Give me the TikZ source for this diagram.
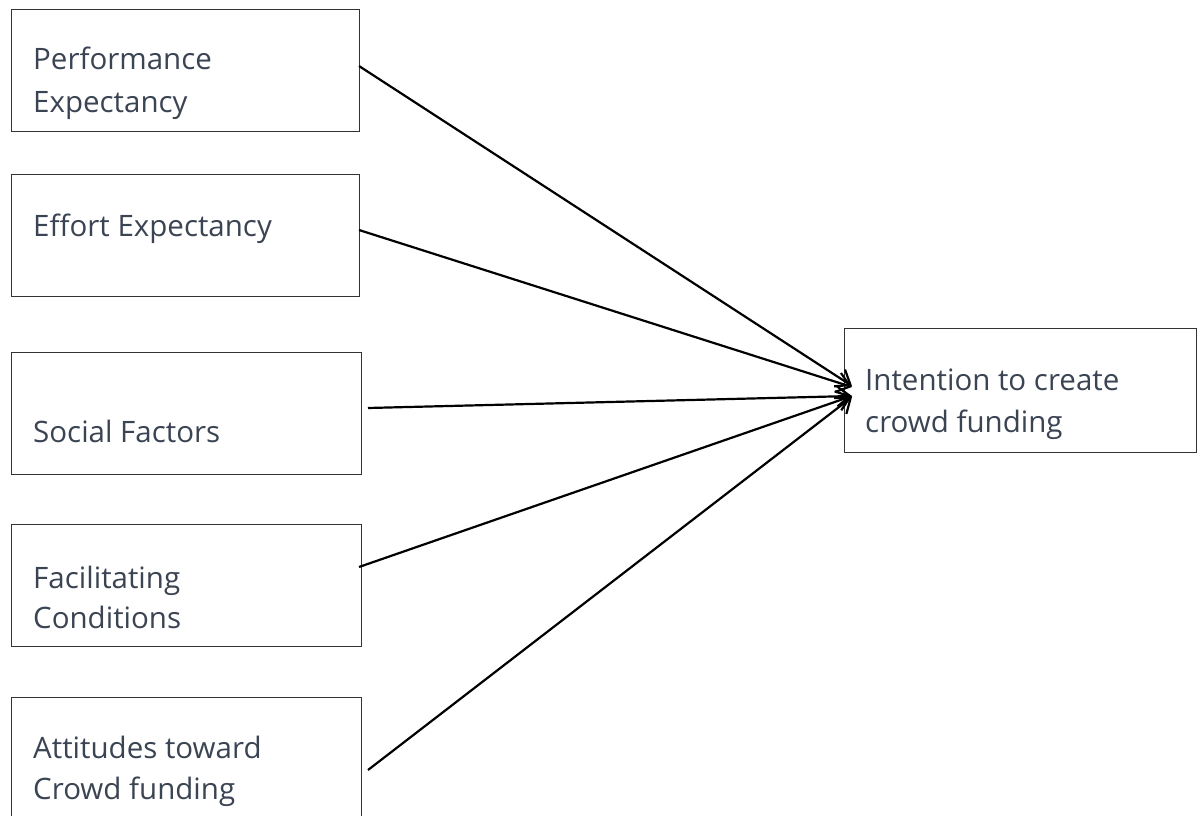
\documentclass[tikz,border=0pt]{standalone}
\usepackage{fontspec}
\setmainfont{Open Sans}
\usetikzlibrary{arrows.meta}
\definecolor{boxgray}{HTML}{333333}
\definecolor{txtcol}{HTML}{3B4453}
\begin{document}
\begin{tikzpicture}[x=1pt,y=-1pt,
  box/.style={draw=boxgray, line width=1.4pt, inner sep=0pt, anchor=north west, minimum width=348pt, minimum height=122pt},
  lbl/.style={anchor=base west, inner sep=0pt, text=txtcol, font=\fontsize{29.5pt}{42pt}\selectfont},
  arr/.style={draw=black, line width=2.2pt, -{Straight Barb[length=13pt,width=20pt,line width=2.2pt]}}]
\useasboundingbox (0,0) rectangle (1200,816);
\fill[white] (0,0) rectangle (1200,816);
% boxes
\node[box] (b1) at (11,9) {};
\node[box] (b2) at (11,174) {};
\node[box, minimum width=350pt] (b3) at (11,352) {};
\node[box, minimum width=350pt] (b4) at (11,524) {};
\node[box, minimum width=350pt, minimum height=140pt] (b5) at (11,697) {};
\node[box, minimum width=352pt, minimum height=124pt] (t) at (844,328) {};
% labels
\node[lbl] (l1a) at (33,70) {Performance};
\node[lbl] (l1b) at (33,112) {Expectancy};
\node[lbl] (l2) at (33,236) {Effort Expectancy};
\node[lbl] (l3) at (33,442) {Social Factors};
\node[lbl] (l4a) at (33,588) {Facilitating};
\node[lbl] (l4b) at (33,628) {Conditions};
\node[lbl] (l5a) at (33,758) {Attitudes toward};
\node[lbl] (l5b) at (33,799) {Crowd funding};
\node[lbl] (lta) at (865,390) {Intention to create};
\node[lbl] (ltb) at (865,432) {crowd funding};
% connector ends
\coordinate (s1) at (359,66);
\coordinate (s2) at (359,230);
\coordinate (s3) at (368,408);
\coordinate (s4) at (359,567);
\coordinate (s5) at (368,770);
\coordinate (e1) at (852,386);
\coordinate (e2) at (852,387);
\coordinate (e3) at (852,396);
\coordinate (e4) at (852,396);
\coordinate (e5) at (852,397);
\draw[arr] (s1) -- (e1);
\draw[arr] (s2) -- (e2);
\draw[arr] (s3) -- (e3);
\draw[arr] (s4) -- (e4);
\draw[arr] (s5) -- (e5);
\end{tikzpicture}
\end{document}
